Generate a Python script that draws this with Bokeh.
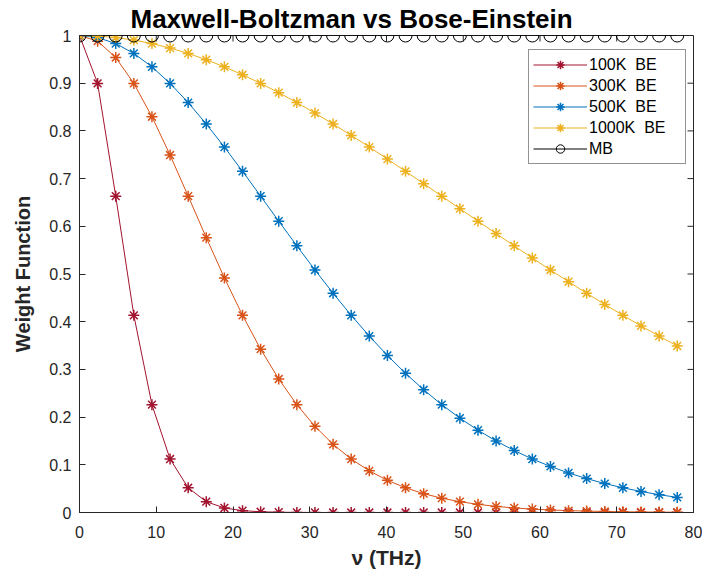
from bokeh.plotting import figure
from bokeh.models import Range1d, FixedTicker, Legend, LegendItem
from bokeh.embed import file_html
from bokeh.resources import INLINE

# Frequency grid (THz)
nu = [0.0, 2.36, 4.72, 7.08, 9.44, 11.8, 14.16, 16.52, 18.88, 21.24, 23.6, 25.96,
      28.32, 30.68, 33.04, 35.4, 37.76, 40.12, 42.48, 44.84, 47.2, 49.56, 51.92,
      54.28, 56.64, 59.0, 61.36, 63.72, 66.08, 68.44, 70.8, 73.16, 75.52, 77.88]

# Bose-Einstein weight at each temperature
be_100k = [1.0, 0.8996, 0.6632, 0.4134, 0.2261, 0.1121, 0.0518, 0.0227, 0.0095, 0.0039,
           0.0015, 0.0006, 0.0002, 0.0001, 0.0, 0.0, 0.0, 0.0, 0.0, 0.0, 0.0, 0.0, 0.0,
           0.0, 0.0, 0.0, 0.0, 0.0, 0.0, 0.0, 0.0, 0.0, 0.0, 0.0]
be_300k = [1.0, 0.9882, 0.9538, 0.8996, 0.8297, 0.7494, 0.6632, 0.5762, 0.4918, 0.4134,
           0.3424, 0.2799, 0.2261, 0.1806, 0.1429, 0.1121, 0.0873, 0.0675, 0.0518, 0.0395,
           0.0300, 0.0227, 0.0171, 0.0128, 0.0095, 0.0071, 0.0053, 0.0039, 0.0029, 0.0021,
           0.0015, 0.0011, 0.0008, 0.0006]
be_500k = [1.0, 0.9957, 0.9831, 0.9624, 0.9343, 0.8996, 0.8593, 0.8144, 0.7661, 0.7153,
           0.6632, 0.6108, 0.5590, 0.5084, 0.4597, 0.4134, 0.3698, 0.3292, 0.2917, 0.2573,
           0.2261, 0.1978, 0.1725, 0.1499, 0.1299, 0.1121, 0.0966, 0.0829, 0.0711, 0.0607,
           0.0518, 0.0441, 0.0374, 0.0317]
be_1000k = [1.0, 0.9989, 0.9957, 0.9904, 0.9831, 0.9737, 0.9624, 0.9492, 0.9343, 0.9177,
            0.8996, 0.8801, 0.8593, 0.8374, 0.8144, 0.7906, 0.7661, 0.7409, 0.7153, 0.6894,
            0.6632, 0.6370, 0.6108, 0.5848, 0.5590, 0.5335, 0.5084, 0.4838, 0.4597, 0.4362,
            0.4134, 0.3912, 0.3698, 0.3491]
# Maxwell-Boltzmann (classical) weight
mb = [1.0] * 34

series_labels = ["100K  BE", "300K  BE", "500K  BE", "1000K  BE", "MB"]
x_ticks = [0, 10, 20, 30, 40, 50, 60, 70, 80]
y_ticks = [0, 0.1, 0.2, 0.3, 0.4, 0.5, 0.6, 0.7, 0.8, 0.9, 1]

FONT = "Liberation Sans"
INK = "#262626"
X0, X1, Y0, Y1 = 0, 80, 0, 1
FRAME_W, FRAME_H = 614, 477
TICK_PX = 6

p = figure(width=702, height=576, output_backend="svg", toolbar_location=None,
           x_range=Range1d(X0, X1), y_range=Range1d(Y0, Y1),
           min_border_left=79, min_border_right=9, min_border_top=35, min_border_bottom=64,
           title="Maxwell-Boltzman vs Bose-Einstein")
p.grid.visible = False
p.outline_line_color = INK
p.background_fill_color = "white"

p.title.text_font = FONT
p.title.text_font_style = "bold"
p.title.text_font_size = "26px"
p.title.text_color = "black"
p.title.align = "left"
p.title.offset = 51
p.title.standoff = 0
p.title.vertical_align = "top"

for ax in (p.xaxis[0], p.yaxis[0]):
    ax.axis_line_color = INK
    ax.major_tick_line_color = INK
    ax.major_tick_in = TICK_PX
    ax.major_tick_out = 0
    ax.minor_tick_line_color = None
    ax.major_label_text_font = FONT
    ax.major_label_text_color = INK
    ax.major_label_text_font_size = "16px"
    ax.axis_label_text_font = FONT
    ax.axis_label_text_font_style = "bold"
    ax.axis_label_text_color = INK

p.xaxis.ticker = FixedTicker(ticks=x_ticks)
p.yaxis.ticker = FixedTicker(ticks=y_ticks)
p.yaxis.major_label_overrides = {0: "0", 1: "1"}
p.xaxis.major_label_standoff = 13
p.yaxis.major_label_standoff = 8

p.xaxis.axis_label = "ν (THz)"
p.xaxis.axis_label_text_font_size = "21px"
p.xaxis.axis_label_standoff = 5
p.yaxis.axis_label = "Weight Function"
p.yaxis.axis_label_text_font_size = "20px"
p.yaxis.axis_label_standoff = 12

# inward ticks along the top and right edges of the box
dy = (Y1 - Y0) * TICK_PX / FRAME_H
dx = (X1 - X0) * TICK_PX / FRAME_W
xt = x_ticks[1:-1]
yt = y_ticks[1:-1]
p.segment(x0=xt, y0=[Y1] * len(xt), x1=xt, y1=[Y1 - dy] * len(xt), line_color=INK, line_width=1)
p.segment(x0=[X1] * len(yt), y0=yt, x1=[X1 - dx] * len(yt), y1=yt, line_color=INK, line_width=1)

colors = ["#A2142F", "#D95319", "#0072BD", "#EDB120"]
be_series = [be_100k, be_300k, be_500k, be_1000k]

items = []
for lbl, ys, c in zip(series_labels[:4], be_series, colors):
    ln = p.line(nu, ys, line_color=c, line_width=1)
    sc = p.scatter(nu, ys, marker="asterisk", size=11, line_color=c, line_width=1.5)
    items.append(LegendItem(label=lbl, renderers=[ln, sc]))

ln = p.line(nu, mb, line_color="black", line_width=1)
sc = p.scatter(nu, mb, marker="circle", size=13, line_color="black", fill_color=None,
               line_width=1)
items.append(LegendItem(label=series_labels[4], renderers=[ln, sc]))

legend = Legend(items=items, location=(449, 348),
                border_line_color=INK, border_line_width=1,
                background_fill_color="white", background_fill_alpha=1,
                label_text_font=FONT, label_text_font_size="16px", label_text_color="black",
                glyph_width=54, glyph_height=21, label_height=21, label_width=92,
                label_standoff=2, spacing=0, padding=4, margin=0)
p.add_layout(legend)

open("out.html", "w").write(file_html(p, INLINE))
